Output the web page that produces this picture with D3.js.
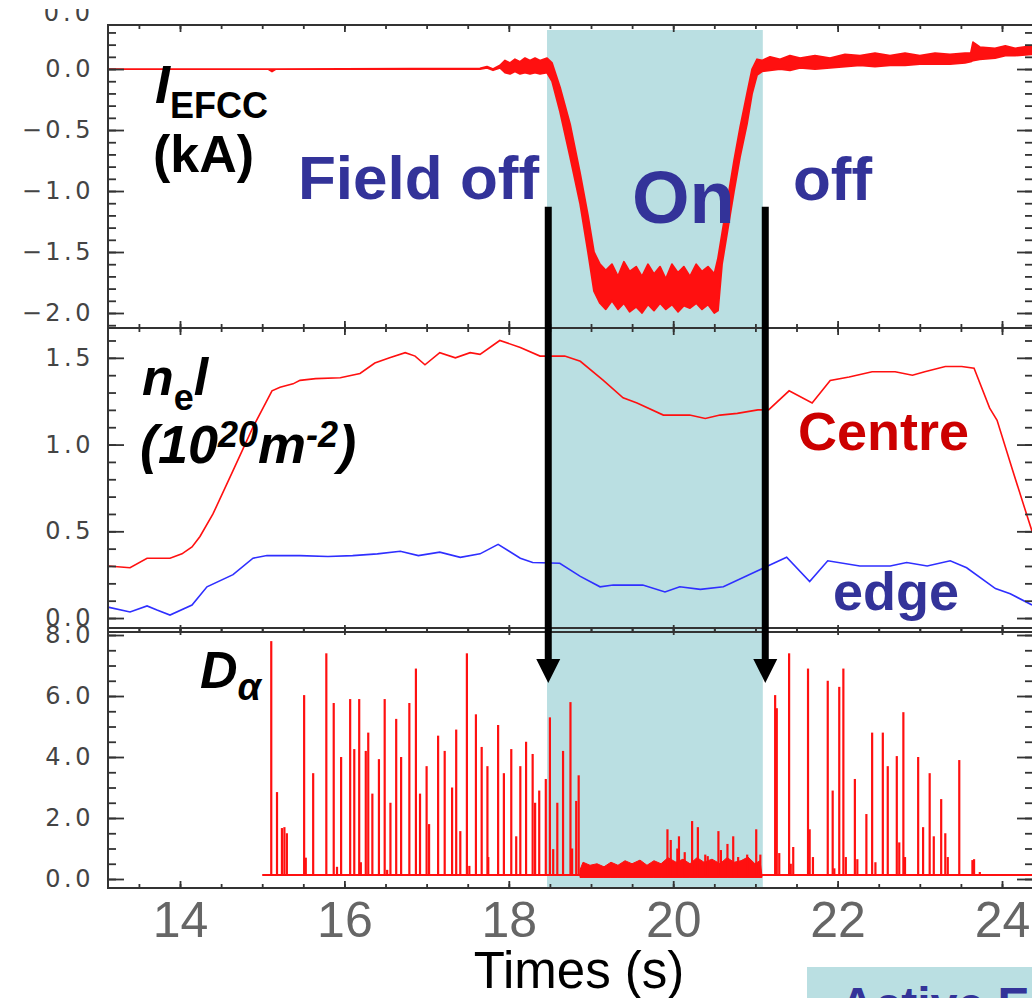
<!DOCTYPE html>
<html>
<head>
<meta charset="utf-8">
<script src="https://cdn.jsdelivr.net/npm/d3@7"></script>
<style>
  body { margin: 0; background: #fff; }
  svg { display: block; }
</style>
</head>
<body>
<svg id="chart" width="1032" height="998"></svg>
<script>
/*****************************************************************************
 *  Data
 */

// time axis
var X_TICKS = [14, 16, 18, 20, 22, 24];
var FIELD_ON = [18.465, 21.09];          // shaded EFCC "on" window (s)
var ARROW_TIMES = [18.48, 21.12];

// I_EFCC (kA): envelope of the noisy trace
var efccTime = [13.124, 15.07, 15.119, 15.168, 17.65, 17.735, 17.808, 17.893, 17.954, 18.015,
    18.075, 18.136, 18.197, 18.258, 18.319, 18.38, 18.465, 18.526, 18.623, 18.745,
    18.866, 18.963, 19.036, 19.109, 19.18, 19.255, 19.328, 19.40, 19.47, 19.55,
    19.62, 19.693, 19.766, 19.84, 19.91, 19.985, 20.058, 20.13, 20.204, 20.28,
    20.35, 20.423, 20.50, 20.545, 20.594, 20.667, 20.74, 20.813, 20.898, 20.96,
    21.02, 21.08, 21.178, 21.30, 21.42, 21.543, 21.725, 21.908, 22.09, 22.273,
    22.455, 22.637, 22.82, 23.0, 23.185, 23.367, 23.55, 23.62, 23.647, 23.73,
    23.915, 24.04, 24.16, 24.365];
var efccHigh = [0, 0, 0, 0, 0.005, 0.02, 0.0, 0.03, 0.07, 0.05,
    0.08, 0.06, 0.09, 0.07, 0.09, 0.07, 0.09, 0.05, -0.15, -0.45,
    -0.85, -1.2, -1.5, -1.6, -1.65, -1.6, -1.7, -1.58, -1.66, -1.62,
    -1.7, -1.6, -1.68, -1.62, -1.72, -1.6, -1.67, -1.62, -1.7, -1.6,
    -1.66, -1.62, -1.68, -1.55, -1.35, -1.05, -0.75, -0.48, -0.2, 0.0,
    0.08, 0.07, 0.10, 0.08, 0.11, 0.09, 0.11, 0.09, 0.12, 0.11,
    0.13, 0.11, 0.13, 0.11, 0.13, 0.12, 0.13, 0.13, 0.22, 0.18,
    0.17, 0.19, 0.17, 0.19];
var efccLow = [0, 0, -0.02, 0, 0, 0.01, -0.01, 0.01, -0.03, -0.04,
    -0.02, -0.04, -0.03, -0.04, -0.03, -0.04, -0.03, -0.1, -0.35, -0.72,
    -1.1, -1.5, -1.82, -1.92, -1.97, -1.9, -1.97, -1.92, -1.99, -1.95,
    -2.0, -1.93, -1.98, -1.92, -1.97, -1.93, -1.99, -1.94, -1.96, -1.92,
    -1.97, -1.93, -2.0, -1.98, -1.6, -1.3, -1.0, -0.72, -0.45, -0.2,
    -0.05, -0.02, -0.01, 0.0, -0.01, 0.01, 0.0, 0.01, 0.02, 0.03,
    0.02, 0.03, 0.03, 0.04, 0.04, 0.04, 0.05, 0.06, 0.07, 0.08,
    0.09, 0.11, 0.11, 0.12];

// line-integrated density (10^20 m^-2), centre chord
var centreTime = [13.124, 13.392, 13.599, 13.878, 14.024, 14.146, 14.243, 14.401, 14.645, 14.888,
    15.119, 15.217, 15.375, 15.46, 15.65, 15.95, 16.19, 16.37, 16.55, 16.74,
    16.86, 16.98, 17.16, 17.35, 17.53, 17.65, 17.89, 18.14, 18.38, 18.53,
    18.68, 18.87, 19.15, 19.39, 19.56, 19.88, 20.20, 20.39, 20.57, 20.78,
    21.03, 21.16, 21.41, 21.69, 21.91, 22.14, 22.42, 22.70, 22.91, 23.06,
    23.31, 23.51, 23.66, 23.85, 23.94, 24.13, 24.365];
var neCentre = [0.30, 0.29, 0.345, 0.345, 0.37, 0.41, 0.47, 0.60, 0.85, 1.10,
    1.31, 1.33, 1.35, 1.37, 1.38, 1.385, 1.41, 1.47, 1.50, 1.53,
    1.51, 1.46, 1.53, 1.50, 1.53, 1.52, 1.60, 1.56, 1.51, 1.51,
    1.51, 1.48, 1.37, 1.27, 1.24, 1.17, 1.17, 1.15, 1.17, 1.18,
    1.20, 1.20, 1.31, 1.24, 1.37, 1.39, 1.42, 1.42, 1.40, 1.42,
    1.45, 1.45, 1.44, 1.21, 1.14, 0.85, 0.50];

// line-integrated density, edge chord
var edgeTime = [13.124, 13.392, 13.599, 13.72, 13.878, 14.146, 14.328, 14.645, 14.888, 15.058,
    15.46, 15.80, 16.10, 16.40, 16.68, 16.90, 17.16, 17.41, 17.65, 17.87,
    18.14, 18.29, 18.62, 18.87, 19.11, 19.27, 19.63, 19.90, 20.08, 20.33,
    20.61, 21.06, 21.15, 21.38, 21.66, 21.88, 22.27, 22.64, 22.84, 23.09,
    23.37, 23.57, 23.92, 24.10, 24.365];
var neEdge = [0.063, 0.035, 0.07, 0.046, 0.017, 0.075, 0.18, 0.25, 0.345, 0.36,
    0.36, 0.355, 0.36, 0.37, 0.385, 0.36, 0.38, 0.35, 0.37, 0.425,
    0.345, 0.32, 0.316, 0.24, 0.18, 0.19, 0.19, 0.15, 0.18, 0.165,
    0.18, 0.28, 0.30, 0.35, 0.21, 0.33, 0.30, 0.30, 0.32, 0.30,
    0.33, 0.29, 0.17, 0.14, 0.075];

// D-alpha: ELM spikes (time, peak)
var dalphaSpikeTime = [15.11, 15.18, 15.24, 15.27, 15.30, 15.51, 15.53, 15.62, 15.78, 15.87,
    15.91, 15.96, 16.07, 16.12, 16.18, 16.20, 16.26, 16.29, 16.34, 16.42,
    16.49, 16.52, 16.56, 16.63, 16.69, 16.79, 16.87, 16.92, 17.00, 17.03,
    17.14, 17.22, 17.31, 17.36, 17.41, 17.49, 17.52, 17.60, 17.67, 17.74,
    17.75, 17.87, 17.94, 18.03, 18.09, 18.14, 18.21, 18.29, 18.32, 18.37,
    18.45, 18.50, 18.54, 18.59, 18.66, 18.75, 18.77, 18.82, 18.85,
    19.93, 19.97, 20.05, 20.07, 20.14, 20.23, 20.30, 20.39, 20.42, 20.55,
    20.58, 20.66, 20.73, 20.79, 20.90, 21.01, 21.06,
    21.24, 21.26, 21.29, 21.41, 21.43, 21.46, 21.64, 21.66, 21.70, 21.88,
    21.94, 21.96, 22.02, 22.07, 22.10, 22.21, 22.24, 22.35, 22.42, 22.46,
    22.55, 22.61, 22.72, 22.75, 22.80, 22.82, 22.98, 23.04, 23.12, 23.17,
    23.26, 23.31, 23.34, 23.48, 23.64, 23.66, 23.73];
var dalphaSpikeValue = [7.8, 2.85, 1.67, 1.70, 1.5, 6.03, 0.7, 3.47, 7.4, 5.77,
    0.4, 4.0, 5.9, 4.26, 5.9, 0.55, 4.2, 4.8, 2.8, 3.93,
    5.9, 0.3, 2.5, 5.25, 4.0, 5.77, 6.9, 2.8, 3.7, 1.8,
    4.7, 4.2, 3.0, 4.9, 1.57, 7.4, 0.43, 5.4, 4.33, 3.7,
    0.72, 5.05, 3.47, 4.26, 1.4, 3.7, 4.5, 4.1, 2.5, 2.9,
    3.28, 5.3, 0.98, 2.5, 4.2, 5.8, 1.0, 2.56, 3.4,
    1.63, 1.28, 1.0, 1.4, 0.88, 1.9, 1.7, 0.8, 0.75, 1.57,
    0.95, 1.15, 1.4, 0.72, 0.8, 1.63, 0.8,
    6.03, 5.6, 0.85, 7.4, 0.5, 1.05, 6.9, 1.63, 0.72, 6.5,
    2.9, 0.35, 6.3, 6.9, 0.72, 3.28, 0.65, 2.13, 4.8, 0.55,
    4.8, 3.7, 4.03, 1.2, 5.47, 0.72, 4.0, 1.7, 3.47, 1.4,
    2.62, 1.5, 0.72, 3.9, 0.62, 0.65, 0.23];

// D-alpha: inter-ELM floor and the ELM-free noisy band
var DALPHA_START = 15.0;
var DALPHA_BASELINE = 0.13;
var DALPHA_BAND_FLOOR = 0.05;
var dalphaBandTime = [18.866, 18.903, 18.988, 19.073, 19.158, 19.243, 19.328, 19.414, 19.499, 19.596,
    19.681, 19.766, 19.852, 19.937, 20.034, 20.119, 20.204, 20.290, 20.375, 20.472,
    20.569, 20.655, 20.740, 20.825, 20.910, 20.995, 21.056, 21.080];
var dalphaBandHigh = [0.3, 0.55, 0.45, 0.5, 0.4, 0.55, 0.45, 0.6, 0.5, 0.62,
    0.45, 0.6, 0.5, 0.7, 0.55, 0.65, 0.5, 0.7, 0.55, 0.65,
    0.5, 0.7, 0.55, 0.6, 0.72, 0.5, 0.6, 0.1];

/*****************************************************************************
 *  Layout / style
 */
var FONT = "'Liberation Sans', Arial, sans-serif";
var PLOT_LEFT = 108, PLOT_RIGHT = 1033;
var FRAME_COLOR = "#333";
var TRACE_RED = "#ff1010";
var TRACE_BLUE = "#2f2fff";
var SLIDE_BLUE = "#333399";
var SHADE_COLOR = "#badfe2";

var svg = d3.select("#chart");

var xScale = d3.scaleLinear().domain([13.124, 24.377]).range([PLOT_LEFT, PLOT_RIGHT]);

var panels = [
    { top: 25,  bottom: 328, domain: [-2.123, 0.361], major: [-2, -1.5, -1, -0.5, 0], step: 0.1 },
    { top: 328, bottom: 632, domain: [-0.0805, 1.672], major: [0, 0.5, 1, 1.5],       step: 0.1 },
    { top: 628, bottom: 888, domain: [-0.295, 8.23],  major: [0, 2, 4, 6, 8],         step: 0.5 }
];
panels.forEach(p => { p.y = d3.scaleLinear().domain(p.domain).range([p.bottom, p.top]); });
var yE = panels[0].y, yN = panels[1].y, yD = panels[2].y;

// Shaded "field on" window
svg.append("rect")
    .attr("x", xScale(FIELD_ON[0]))
    .attr("y", yE(0.32))
    .attr("width", xScale(FIELD_ON[1]) - xScale(FIELD_ON[0]))
    .attr("height", yD(-0.26) - yE(0.32))
    .attr("fill", SHADE_COLOR);

// Remnant label of the panel above (cropped)
svg.append("clipPath").attr("id", "stub-clip")
    .append("rect").attr("x", 0).attr("y", 9).attr("width", 108).attr("height", 16);
svg.append("text")
    .attr("clip-path", "url(#stub-clip)")
    .attr("x", 94).attr("y", 13)
    .attr("text-anchor", "end")
    .attr("dominant-baseline", "central")
    .style("font-family", "'DejaVu Sans'").style("font-size", "24px")
    .style("letter-spacing", "4px").style("fill", "#444")
    .text("0.0");

/*****************************************************************************
 *  Traces
 */
var efccRows = efccTime.map((t, i) => [t, efccLow[i], efccHigh[i]]);
svg.append("path")
    .datum(efccRows)
    .attr("d", d3.area().x(d => xScale(d[0])).y0(d => yE(d[1])).y1(d => yE(d[2])))
    .attr("fill", TRACE_RED)
    .attr("stroke", TRACE_RED)
    .attr("stroke-width", 1.8)
    .attr("stroke-linejoin", "round");

var lineN = d3.line().x(d => xScale(d[0])).y(d => yN(d[1]));
svg.append("path")
    .datum(centreTime.map((t, i) => [t, neCentre[i]]))
    .attr("d", lineN)
    .attr("fill", "none").attr("stroke", TRACE_RED).attr("stroke-width", 1.6);
svg.append("path")
    .datum(edgeTime.map((t, i) => [t, neEdge[i]]))
    .attr("d", lineN)
    .attr("fill", "none").attr("stroke", TRACE_BLUE).attr("stroke-width", 1.6);

// D-alpha floor
svg.append("line")
    .attr("x1", xScale(DALPHA_START)).attr("x2", PLOT_RIGHT)
    .attr("y1", yD(DALPHA_BASELINE)).attr("y2", yD(DALPHA_BASELINE))
    .attr("stroke", TRACE_RED).attr("stroke-width", 2);

// D-alpha ELM-free band
svg.append("path")
    .datum(dalphaBandTime.map((t, i) => [t, dalphaBandHigh[i]]))
    .attr("d", d3.area().x(d => xScale(d[0])).y0(yD(DALPHA_BAND_FLOOR)).y1(d => yD(d[1])))
    .attr("fill", TRACE_RED).attr("stroke", TRACE_RED).attr("stroke-width", 1);

// D-alpha spikes
svg.selectAll(".dalpha-spike")
    .data(dalphaSpikeTime.map((t, i) => [t, dalphaSpikeValue[i]]))
    .enter()
    .append("line")
    .attr("class", "dalpha-spike")
    .attr("x1", d => xScale(d[0])).attr("x2", d => xScale(d[0]))
    .attr("y1", yD(DALPHA_BASELINE))
    .attr("y2", d => yD(d[1]))
    .attr("stroke", TRACE_RED)
    .attr("stroke-width", 2.2);

/*****************************************************************************
 *  Frames, ticks and tick labels
 */
var xMinor = d3.range(27, 49).map(k => k * 0.5);

panels.forEach(p => {
    var g = svg.append("g").attr("class", "frame");
    var yMinor = d3.range(Math.ceil(p.domain[0] / p.step), Math.floor(p.domain[1] / p.step) + 1)
        .map(k => +(k * p.step).toFixed(2));

    [[xMinor, 4], [X_TICKS, 7]].forEach(([vals, len]) => {
        g.append("g").attr("transform", `translate(0,${p.top})`)
            .call(d3.axisBottom(xScale).tickValues(vals).tickSize(len).tickFormat(""));
        g.append("g").attr("transform", `translate(0,${p.bottom})`)
            .call(d3.axisTop(xScale).tickValues(vals).tickSize(len).tickFormat(""));
    });
    [[yMinor, 8], [p.major, 16]].forEach(([vals, len]) => {
        g.append("g").attr("transform", `translate(${PLOT_LEFT},0)`)
            .call(d3.axisRight(p.y).tickValues(vals).tickSize(len).tickFormat(""));
        g.append("g").attr("transform", `translate(${PLOT_RIGHT},0)`)
            .call(d3.axisLeft(p.y).tickValues(vals).tickSize(len).tickFormat(""));
    });
    g.selectAll(".domain").remove();
    g.selectAll(".tick line").attr("stroke", FRAME_COLOR).attr("stroke-width", 1.8);

    g.append("rect")
        .attr("x", PLOT_LEFT).attr("y", p.top)
        .attr("width", PLOT_RIGHT - PLOT_LEFT).attr("height", p.bottom - p.top)
        .attr("fill", "none").attr("stroke", FRAME_COLOR).attr("stroke-width", 2);

    var lab = svg.append("g").attr("transform", `translate(${PLOT_LEFT},0)`)
        .call(d3.axisLeft(p.y).tickValues(p.major).tickSize(0).tickPadding(14)
            .tickFormat(d3.format(".1f")));
    lab.select(".domain").remove();
    lab.selectAll("text")
        .style("font-family", "'DejaVu Sans'")
        .style("font-size", "24px")
        .style("letter-spacing", "3.5px")
        .style("fill", "#444");
});

// time tick labels (slide overlay style)
var xLab = svg.append("g").attr("transform", `translate(0,${panels[2].bottom})`)
    .call(d3.axisBottom(xScale).tickValues(X_TICKS).tickSize(0).tickPadding(13));
xLab.select(".domain").remove();
xLab.selectAll("text")
    .style("font-family", FONT)
    .style("font-size", "50px")
    .style("fill", "#666");

svg.append("text")
    .attr("x", 579).attr("y", 988)
    .attr("text-anchor", "middle")
    .style("font-family", FONT).style("font-size", "51px").style("fill", "#000")
    .text("Times (s)");

/*****************************************************************************
 *  Arrows
 */
ARROW_TIMES.forEach(t => {
    var ax = xScale(t);
    var yTopArrow = yE(-1.13), yTip = yD(6.43);
    svg.append("line")
        .attr("x1", ax).attr("x2", ax)
        .attr("y1", yTopArrow).attr("y2", yTip - 20)
        .attr("stroke", "#000").attr("stroke-width", 7);
    svg.append("path")
        .attr("d", `M${ax - 12},${yTip - 24}L${ax + 12},${yTip - 24}L${ax},${yTip}Z`)
        .attr("fill", "#000");
});

/*****************************************************************************
 *  Slide annotations
 */
function label(x, y, color, parts) {
    var t = svg.append("text")
        .attr("x", x).attr("y", y)
        .style("font-family", FONT)
        .style("font-weight", "bold")
        .style("fill", color);
    parts.forEach(p => {
        var s = t.append("tspan").style("font-size", p.size + "px").text(p.text);
        if (p.italic) s.style("font-style", "italic");
        if (p.dy) s.attr("dy", p.dy);
    });
    return t;
}

label(155, 103, "#000", [
    { text: "I", size: 54, italic: true },
    { text: "EFCC", size: 36, dy: 15 }
]);
label(153, 172, "#000", [{ text: "(kA)", size: 52 }]);

label(142, 395, "#000", [
    { text: "n", size: 52, italic: true },
    { text: "e", size: 36, dy: 15 },
    { text: "l", size: 52, italic: true, dy: -15 }
]);
label(140, 463, "#000", [
    { text: "(10", size: 54, italic: true },
    { text: "20", size: 36, italic: true, dy: -16 },
    { text: "m", size: 54, italic: true, dy: 16 },
    { text: "-2", size: 36, italic: true, dy: -16 },
    { text: ")", size: 54, italic: true, dy: 16 }
]);

label(200, 688, "#000", [
    { text: "D", size: 52, italic: true },
    { text: "α", size: 38, italic: true, dy: 12 }
]);

label(298, 199, SLIDE_BLUE, [{ text: "Field off", size: 62 }]);
label(632, 223, SLIDE_BLUE, [{ text: "On", size: 74 }]);
label(793, 200, SLIDE_BLUE, [{ text: "off", size: 62 }]);
label(798, 450, "#cc0000", [{ text: "Centre", size: 54 }]);
label(833, 610, SLIDE_BLUE, [{ text: "edge", size: 54 }]);

// cropped box at the bottom right of the slide
svg.append("rect")
    .attr("x", 807).attr("y", 967).attr("width", 225).attr("height", 31)
    .attr("fill", SHADE_COLOR);
label(840, 1021, SLIDE_BLUE, [{ text: "Active ELM control", size: 48 }]);
</script>
</body>
</html>
